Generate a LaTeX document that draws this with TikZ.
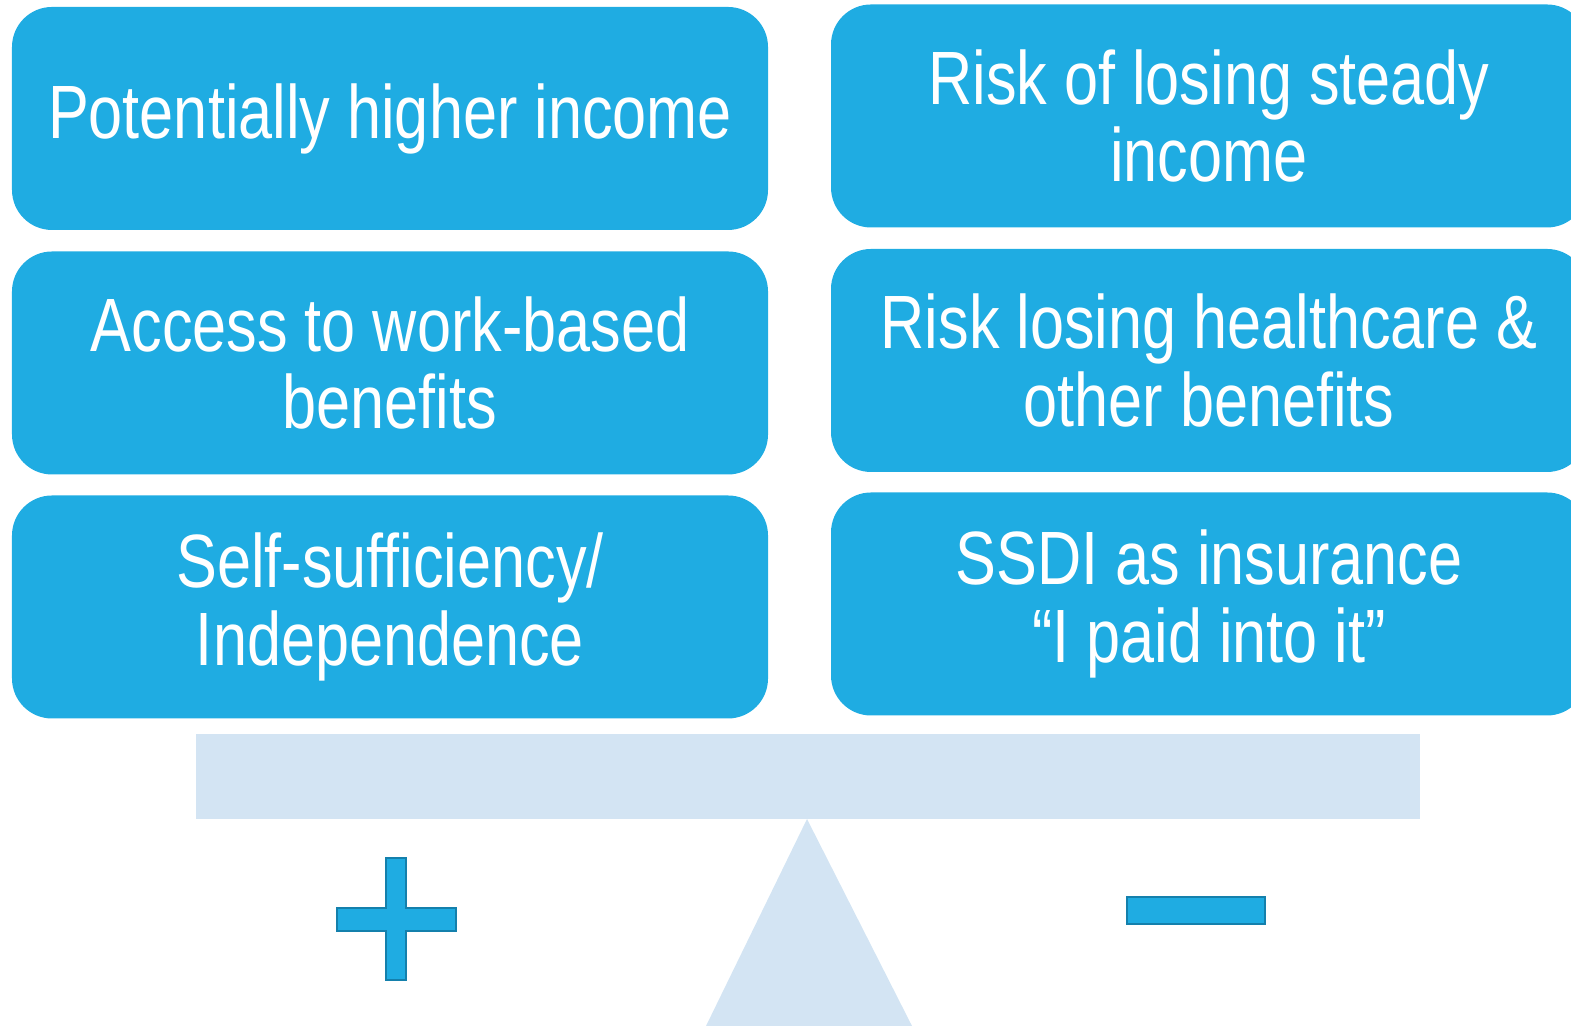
\documentclass[tikz,border=0pt]{standalone}
\usepackage{fontspec}
\setmainfont[FakeStretch=0.81]{Liberation Sans}
\definecolor{boxblue}{RGB}{31,172,226}
\definecolor{edgeblue}{RGB}{20,128,172}
\definecolor{beamblue}{RGB}{211,228,243}

\begin{document}
\begin{tikzpicture}
   \tikzset{box/.style={rectangle, rounded corners=0.4cm, fill=boxblue, text=white,
        minimum width=7.56cm, minimum height=2.23cm, align=center,
        font=\fontsize{21.5}{22}\selectfont}};
   \tikzset{sign/.style={fill=boxblue, draw=edgeblue, line width=0.8pt}};

\useasboundingbox (0,0) rectangle (15.71,10.26);

%pros---------------------------
\node[box] (l1) at (3.90,9.075) {Potentially higher income};
\node[box] (l2) at (3.90,6.63) {Access to work-based\\benefits};
\node[box] (l3) at (3.90,4.19) {Self-sufficiency/\\Independence};

%cons---------------------------
\node[box] (r1) at (12.09,9.10) {Risk of losing steady\\income};
\node[box] (r2) at (12.09,6.655) {Risk losing healthcare \&\\other benefits};
\node[box] (r3) at (12.09,4.22) {SSDI as insurance\\“I paid into it”};

%scale--------------------------
\fill[beamblue] (1.96,2.07) rectangle (14.20,2.92);
\fill[beamblue] (8.07,2.07) -- (9.12,0) -- (7.06,0) -- cycle;

%signs--------------------------
\draw[sign] (3.86,0.46) -- (3.86,0.95) -- (3.37,0.95) -- (3.37,1.18) -- (3.86,1.18)
    -- (3.86,1.68) -- (4.06,1.68) -- (4.06,1.18) -- (4.56,1.18) -- (4.56,0.95)
    -- (4.06,0.95) -- (4.06,0.46) -- cycle;
\draw[sign] (11.27,1.02) rectangle (12.65,1.29);

\end{tikzpicture}
\end{document}
